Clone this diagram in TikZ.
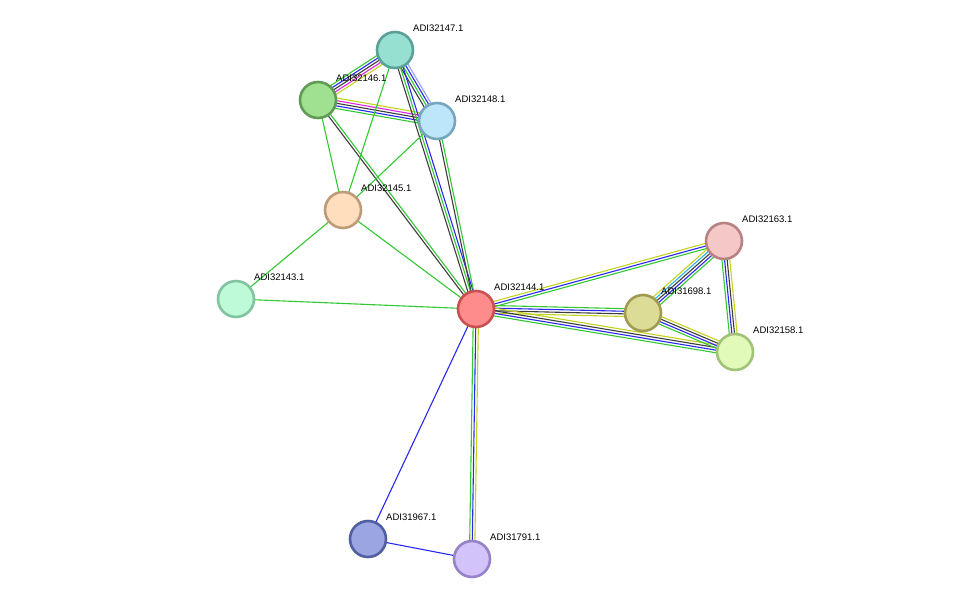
\documentclass[tikz,border=0pt]{standalone}
\usepackage{fontspec}
\setmainfont{Liberation Sans}
\usetikzlibrary{calc}
\definecolor{egreen}{RGB}{50,200,50}
\definecolor{eblue}{RGB}{40,40,240}
\definecolor{eyellow}{RGB}{195,210,30}
\definecolor{eblack}{RGB}{60,60,60}
\definecolor{emagenta}{RGB}{220,40,220}
\definecolor{elightblue}{RGB}{150,160,250}
\definecolor{ecyan}{RGB}{40,180,230}
% protein fills and borders
\definecolor{f147}{RGB}{150,224,210}\definecolor{d147}{RGB}{90,160,150}
\definecolor{f146}{RGB}{160,225,145}\definecolor{d146}{RGB}{95,155,85}
\definecolor{f148}{RGB}{190,230,250}\definecolor{d148}{RGB}{120,165,190}
\definecolor{f145}{RGB}{255,222,190}\definecolor{d145}{RGB}{190,155,120}
\definecolor{f143}{RGB}{190,250,215}\definecolor{d143}{RGB}{130,195,160}
\definecolor{f144}{RGB}{255,140,140}\definecolor{d144}{RGB}{200,80,80}
\definecolor{f698}{RGB}{220,220,150}\definecolor{d698}{RGB}{160,155,80}
\definecolor{f163}{RGB}{245,200,200}\definecolor{d163}{RGB}{185,130,130}
\definecolor{f158}{RGB}{225,250,185}\definecolor{d158}{RGB}{160,195,120}
\definecolor{f967}{RGB}{155,165,225}\definecolor{d967}{RGB}{80,95,160}
\definecolor{f791}{RGB}{210,195,250}\definecolor{d791}{RGB}{150,130,200}
\newcommand\multiedge[3]{%
  \foreach \c [count=\i] in {#3}{\xdef\nn{\i}}%
  \foreach \c [count=\i] in {#3}{%
    \pgfmathsetmacro\o{(\i-(\nn+1)/2)*2.6}%
    \draw[\c, line width=1.1pt] ($(#1)!\o pt!90:(#2)$) -- ($(#2)!\o pt!-90:(#1)$);
  }%
}
\tikzset{
  prot/.style={circle, minimum size=36pt, inner sep=0pt, line width=2.6pt, fill=f#1, draw=d#1},
  lbl/.style={anchor=west, inner sep=0pt, font=\fontsize{9.5}{11}\selectfont}
}
\begin{document}
\begin{tikzpicture}[x=1pt,y=-1pt]
\path[use as bounding box] (0,0) rectangle (975,605);

% positions
\coordinate (p147) at (395,50);
\coordinate (p146) at (318,100);
\coordinate (p148) at (437,121);
\coordinate (p145) at (343,210);
\coordinate (p143) at (236,299);
\coordinate (p144) at (476,309);
\coordinate (p698) at (643,313);
\coordinate (p163) at (724,241);
\coordinate (p158) at (735,352);
\coordinate (p967) at (368,539);
\coordinate (p791) at (472,559);

% edges
\multiedge{p147}{p146}{egreen,eblue,eblack,emagenta,eyellow}
\multiedge{p147}{p148}{eblack,egreen,eblue,elightblue}
\multiedge{p146}{p148}{egreen,eblue,eblack,emagenta,eyellow}
\multiedge{p147}{p144}{eblack,egreen,eblue}
\multiedge{p146}{p144}{eblack,egreen}
\multiedge{p148}{p144}{eblack,egreen}
\multiedge{p147}{p145}{egreen}
\multiedge{p146}{p145}{egreen}
\multiedge{p148}{p145}{egreen}
\multiedge{p145}{p144}{egreen}
\multiedge{p145}{p143}{egreen}
\multiedge{p143}{p144}{egreen}
\multiedge{p144}{p163}{egreen,eblue,eyellow}
\multiedge{p144}{p698}{eyellow,eblack,eblue,egreen}
\multiedge{p144}{p158}{egreen,eblue,eblack,eyellow}
\multiedge{p698}{p163}{egreen,eblue,eblack,ecyan,eyellow}
\multiedge{p698}{p158}{egreen,eblue,eblack,eyellow}
\multiedge{p163}{p158}{egreen,eblue,eblack,eyellow}
\multiedge{p144}{p791}{egreen,eblue,eyellow}
\multiedge{p144}{p967}{eblue}
\multiedge{p967}{p791}{eblue}

% proteins
\foreach \p in {147,146,148,145,143,144,698,163,158,967,791}
  \node[prot=\p] (n\p) at (p\p) {};

% labels
\node[lbl] (l147) at ($(p147)+(18,-22)$) {ADI32147.1};
\node[lbl] (l146) at ($(p146)+(18,-22)$) {ADI32146.1};
\node[lbl] (l148) at ($(p148)+(18,-22)$) {ADI32148.1};
\node[lbl] (l145) at ($(p145)+(18,-22)$) {ADI32145.1};
\node[lbl] (l143) at ($(p143)+(18,-22)$) {ADI32143.1};
\node[lbl] (l144) at ($(p144)+(18,-22)$) {ADI32144.1};
\node[lbl] (l698) at ($(p698)+(18,-22)$) {ADI31698.1};
\node[lbl] (l163) at ($(p163)+(18,-22)$) {ADI32163.1};
\node[lbl] (l158) at ($(p158)+(18,-22)$) {ADI32158.1};
\node[lbl] (l967) at ($(p967)+(18,-22)$) {ADI31967.1};
\node[lbl] (l791) at ($(p791)+(18,-22)$) {ADI31791.1};
\end{tikzpicture}
\end{document}
